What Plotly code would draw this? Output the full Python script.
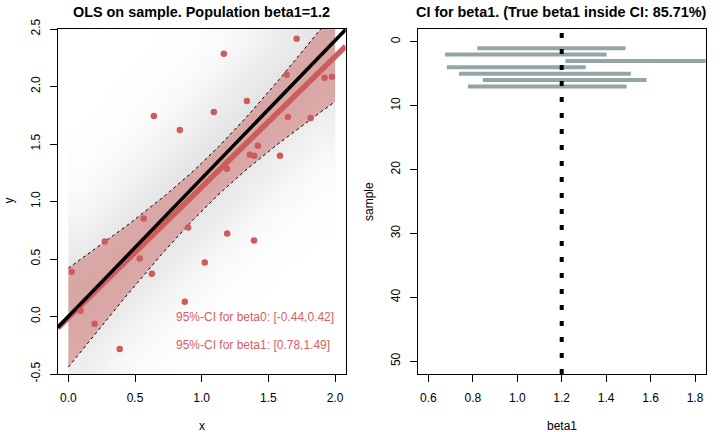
import numpy as np
import plotly.graph_objects as go

# population parameters
true_beta0 = 0.0
true_beta1 = 1.2

# sample drawn from the population
sample_x = [1.712, 1.166, 1.637, 1.922, 1.977, 1.339, 1.091, 0.641, 1.647, 1.817,
            0.836, 1.421, 1.361, 1.394, 1.587, 1.189, 0.565, 0.898, 1.191, 1.392,
            0.273, 0.535, 1.023, 0.025, 0.626, 0.873, 0.092, 0.197, 0.385]
sample_y = [2.416, 2.285, 2.102, 2.076, 2.084, 1.875, 1.779, 1.744, 1.735, 1.726,
            1.621, 1.484, 1.406, 1.397, 1.397, 1.284, 0.853, 0.775, 0.722, 0.661,
            0.652, 0.504, 0.469, 0.390, 0.372, 0.128, 0.049, -0.064, -0.282]

# OLS confidence intervals on this sample
ci_beta0 = [-0.44, 0.42]
ci_beta1 = [0.78, 1.49]

# population cloud, as a rough density grid (rows bottom -> top)
pop_x = [0.125, 0.375, 0.625, 0.875, 1.125, 1.375, 1.625, 1.875]
pop_y = [-0.375, -0.125, 0.125, 0.375, 0.625, 0.875, 1.125, 1.375, 1.625, 1.875, 2.125, 2.375]
pop_density = [
    [0.58, 0.28, 0.10, 0.03, 0.00, 0.00, 0.00, 0.00],
    [0.86, 0.52, 0.23, 0.08, 0.02, 0.00, 0.00, 0.00],
    [1.00, 0.80, 0.46, 0.20, 0.07, 0.02, 0.00, 0.00],
    [0.90, 0.98, 0.74, 0.40, 0.16, 0.05, 0.01, 0.00],
    [0.63, 0.93, 0.95, 0.68, 0.35, 0.14, 0.04, 0.01],
    [0.35, 0.68, 0.95, 0.93, 0.63, 0.30, 0.12, 0.04],
    [0.16, 0.40, 0.74, 0.98, 0.90, 0.58, 0.28, 0.10],
    [0.07, 0.20, 0.46, 0.80, 1.00, 0.86, 0.52, 0.23],
    [0.02, 0.08, 0.23, 0.52, 0.86, 1.00, 0.80, 0.46],
    [0.00, 0.03, 0.10, 0.28, 0.58, 0.90, 0.98, 0.74],
    [0.00, 0.01, 0.04, 0.12, 0.30, 0.63, 0.93, 0.95],
    [0.00, 0.00, 0.01, 0.05, 0.14, 0.35, 0.68, 0.95],
]

# CI for beta1 from repeated samples
ci_sample = [1, 2, 3, 4, 5, 6, 7]
ci_lower = [0.820, 0.675, 1.217, 0.683, 0.738, 0.845, 0.778]
ci_upper = [1.487, 1.402, 1.950, 1.308, 1.511, 1.582, 1.492]

RED = "#CD5C5C"
FONT = "Liberation Sans, Arial, sans-serif"
x1_range = [-0.08, 2.08]
y1_range = [-0.5, 2.5]
W, H = 720, 432

def px(x, y):
    return x / W, 1 - y / H

# fit and confidence band for the mean, from the CIs
t_crit = 2.052
b0 = sum(ci_beta0) / 2
b1 = sum(ci_beta1) / 2
se0 = (ci_beta0[1] - ci_beta0[0]) / 2 / t_crit
se1 = (ci_beta1[1] - ci_beta1[0]) / 2 / t_crit
xbar = float(np.mean(sample_x))
s2n = se0 ** 2 - se1 ** 2 * xbar ** 2
grid = np.linspace(0, 2, 101)
fit = b0 + b1 * grid
half = t_crit * np.sqrt(s2n + se1 ** 2 * (grid - xbar) ** 2)
band_lo = fit - half
band_hi = fit + half

fig = go.Figure()

fig.add_trace(go.Heatmap(
    x=pop_x, y=pop_y, z=pop_density, zsmooth="best",
    colorscale=[[0, "#FFFFFF"], [1, "#E2E2E2"]],
    zmin=0, zmax=1, showscale=False, hoverinfo="skip",
    xaxis="x", yaxis="y"))

# band
fig.add_trace(go.Scatter(
    x=np.concatenate([grid, grid[::-1]]), y=np.concatenate([band_hi, band_lo[::-1]]),
    fill="toself", fillcolor="rgba(205,92,92,0.45)", line=dict(width=0),
    mode="lines", hoverinfo="skip", xaxis="x", yaxis="y"))
for edge in (band_lo, band_hi):
    fig.add_trace(go.Scatter(x=grid, y=edge, mode="lines",
                             line=dict(color="black", width=1, dash="3px,3px"),
                             hoverinfo="skip", xaxis="x", yaxis="y"))

# fitted line
fx = np.array(x1_range)
fig.add_trace(go.Scatter(x=fx, y=b0 + b1 * fx, mode="lines",
                         line=dict(color=RED, width=5.5), xaxis="x", yaxis="y"))
# true line
fig.add_trace(go.Scatter(x=fx, y=true_beta0 + true_beta1 * fx, mode="lines",
                         line=dict(color="black", width=3.5), xaxis="x", yaxis="y"))
# sample points
fig.add_trace(go.Scatter(x=sample_x, y=sample_y, mode="markers",
                         marker=dict(color=RED, size=6.5), xaxis="x", yaxis="y"))

# right panel: CI segments
seg_x, seg_y = [], []
for i, lo, hi in zip(ci_sample, ci_lower, ci_upper):
    seg_x += [lo, hi, None]
    seg_y += [i, i, None]
fig.add_trace(go.Scatter(x=seg_x, y=seg_y, mode="lines",
                         line=dict(color="#95A5A6", width=4), xaxis="x2", yaxis="y2"))

fig.add_shape(type="line", xref="x2", yref="y2 domain", x0=true_beta1, x1=true_beta1,
              y0=0, y1=1, line=dict(color="black", width=4, dash="5px,11px"))

axis_common = dict(showline=True, mirror=True, linecolor="black", linewidth=1.3,
                   ticks="outside", ticklen=7, tickcolor="black", showgrid=False,
                   zeroline=False, automargin=False, ticklabelstandoff=5,
                   tickfont=dict(family=FONT, size=12, color="black"))

xl0, _ = px(57.7, 0)
xl1, _ = px(345.7, 0)
xr0, _ = px(417.7, 0)
xr1, _ = px(705.7, 0)
_, yb = px(0, 374)
_, yt = px(0, 29)

fig.update_layout(
    width=W, height=H, showlegend=False,
    margin=dict(l=0, r=0, t=0, b=0),
    paper_bgcolor="white", plot_bgcolor="white",
    xaxis=dict(domain=[xl0, xl1], range=x1_range, tickvals=[0, 0.5, 1, 1.5, 2],
               ticktext=["0.0", "0.5", "1.0", "1.5", "2.0"], anchor="y", **axis_common),
    yaxis=dict(domain=[yb, yt], range=y1_range,
               tickvals=[-0.5, 0, 0.5, 1, 1.5, 2, 2.5],
               ticktext=["-0.5", "0.0", "0.5", "1.0", "1.5", "2.0", "2.5"],
               tickangle=-90, anchor="x", **axis_common),
    xaxis2=dict(domain=[xr0, xr1], range=[0.552, 1.848],
                tickvals=[0.6, 0.8, 1.0, 1.2, 1.4, 1.6, 1.8],
                ticktext=["0.6", "0.8", "1.0", "1.2", "1.4", "1.6", "1.8"],
                anchor="y2", **axis_common),
    yaxis2=dict(domain=[yb, yt], range=[52, -2], tickvals=[0, 10, 20, 30, 40, 50],
                tickangle=-90, anchor="x2", **axis_common),
)

annots = [
    ("<b>OLS on sample. Population beta1=1.2</b>", 201.7, 12, 0, 14.4),
    ("<b>CI for beta1. (True beta1 inside CI: 85.71%)</b>", 561.7, 12, 0, 14.4),
    ("x", 201.7, 426, 0, 12),
    ("y", 8.5, 201, -90, 12),
    ("beta1", 561.7, 426, 0, 12),
    ("sample", 369, 201, -90, 12),
]
for text, ax, ay, ang, size in annots:
    xx, yy = px(ax, ay)
    fig.add_annotation(text=text, x=xx, y=yy, xref="paper", yref="paper",
                       showarrow=False, textangle=ang, xanchor="center", yanchor="middle",
                       font=dict(family=FONT, size=size, color="black"))

ci_text = [f"95%-CI for beta0: [{ci_beta0[0]:.2f},{ci_beta0[1]:.2f}]",
           f"95%-CI for beta1: [{ci_beta1[0]:.2f},{ci_beta1[1]:.2f}]"]
for text, ty in zip(ci_text, [0.0, -0.25]):
    fig.add_annotation(text=text, x=0.79, y=ty, xref="x", yref="y", showarrow=False,
                       xanchor="left", yanchor="middle",
                       font=dict(family=FONT, size=12, color="#D9605F"))

# drop the default 8px body margin so the figure sits at the page corner
fig.write_html("out.html", config={"displayModeBar": False},
               post_script="document.body.style.margin='0';")
